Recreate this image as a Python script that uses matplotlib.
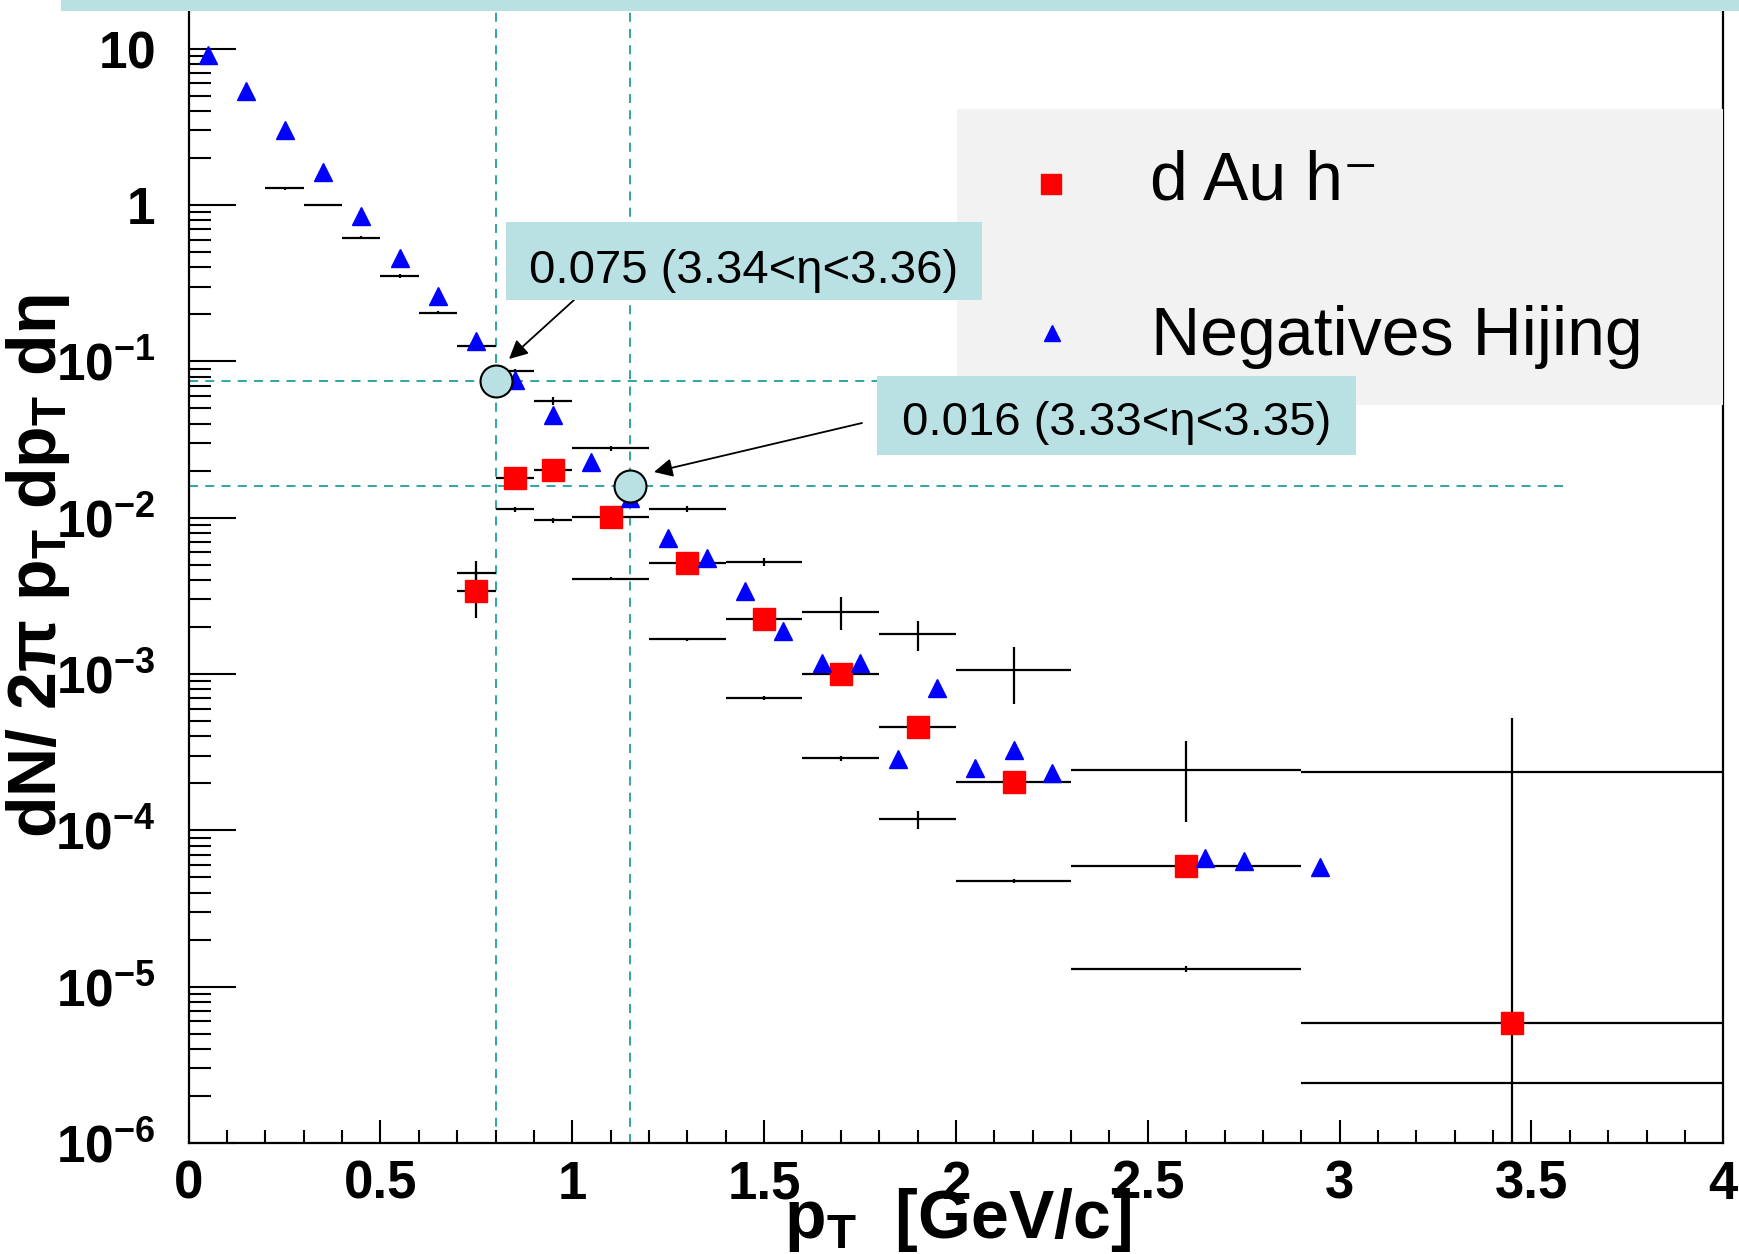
import numpy as np
import matplotlib.pyplot as plt
from matplotlib.patches import Rectangle
from matplotlib.ticker import LogLocator, MultipleLocator, NullFormatter

plt.rcParams['font.family'] = ['Liberation Sans', 'DejaVu Sans']
plt.rcParams['mathtext.fontset'] = 'custom'
plt.rcParams['mathtext.rm'] = 'Liberation Sans'
plt.rcParams['mathtext.it'] = 'Liberation Sans:italic'
plt.rcParams['mathtext.bf'] = 'Liberation Sans:bold'

# Negatives Hijing (blue triangles)
hij_x = [0.05, 0.15, 0.25, 0.35, 0.45, 0.55, 0.65, 0.75, 0.85, 0.95,
         1.05, 1.15, 1.25, 1.35, 1.45, 1.55, 1.65, 1.75, 1.85, 1.95,
         2.05, 2.15, 2.25, 2.65, 2.75, 2.95]
hij_y = [9.1, 5.34, 3.0, 1.63, 0.851, 0.459, 0.263, 0.136, 0.0756, 0.0452,
         0.0226, 0.0133, 0.00738, 0.00555, 0.00341, 0.00189, 0.00118, 0.00118, 0.000285, 0.00082,
         0.000251, 0.000327, 0.000234, 6.7e-5, 6.36e-5, 5.85e-5]

# d Au h- (red squares)
dau_x = [0.75, 0.85, 0.95, 1.1, 1.3, 1.5, 1.7, 1.9, 2.15, 2.6, 3.45]
dau_xerr = [0.05, 0.05, 0.05, 0.1, 0.1, 0.1, 0.1, 0.1, 0.15, 0.3, 0.55]
dau_y = [0.00341, 0.018, 0.0202, 0.01016, 0.0051, 0.00225, 0.001, 0.00046, 0.000203, 5.94e-5, 5.82e-6]
dau_yerr = [0.00113, 0.0003, 0.0003, 0.0002, 0.0001, 0.00004, 0.00002, 0.00001, 4e-6, 1e-6, 0]

# black crosses, upper set
up_x = [0.25, 0.35, 0.45, 0.55, 0.65, 0.75, 0.85, 0.95, 1.1, 1.3, 1.5, 1.7, 1.9, 2.15, 2.6, 3.45]
up_xerr = [0.05, 0.05, 0.05, 0.05, 0.05, 0.05, 0.05, 0.05, 0.1, 0.1, 0.1, 0.1, 0.1, 0.15, 0.3, 0.55]
up_y = [1.28, 1.0, 0.62, 0.352, 0.205, 0.126, 0.087, 0.0558, 0.0278, 0.0114,
        0.00521, 0.0025, 0.0018, 0.00106, 0.000243, 0.000235]
up_yerr = [0.03, 0.02, 0.015, 0.008, 0.005, 0.003, 0.002, 0.003, 0.001, 0.0005,
           0.0003, 0.0006, 0.0004, 0.00042, 0.00013, 0.000285]

# black crosses, lower set
lo_x = [0.75, 0.85, 0.95, 1.1, 1.3, 1.5, 1.7, 1.9, 2.15, 2.6, 3.45]
lo_xerr = [0.05, 0.05, 0.05, 0.1, 0.1, 0.1, 0.1, 0.1, 0.15, 0.3, 0.55]
lo_y = [0.00445, 0.0113, 0.0096, 0.00407, 0.00167, 0.000706, 0.000289, 0.0001175, 4.76e-5, 1.3e-5, 2.43e-6]
lo_yerr = [0.0008, 0.0004, 0.0003, 0.0001, 0.00004, 0.00002, 0.00001, 0.000016, 1.5e-6, 5e-7, 0]

# marked points
mark_x = [0.8, 1.15]
mark_y = [0.075, 0.016]
mark_xend = [3.54, 3.595]
mark_text = ['0.075 (3.34<η<3.36)', '0.016 (3.33<η<3.35)']

y_ticks = [1e-6, 1e-5, 1e-4, 1e-3, 1e-2, 1e-1, 1, 10]
y_labels = [r'$\mathbf{10^{-6}}$', r'$\mathbf{10^{-5}}$', r'$\mathbf{10^{-4}}$', r'$\mathbf{10^{-3}}$',
            r'$\mathbf{10^{-2}}$', r'$\mathbf{10^{-1}}$', r'$\mathbf{1}$', r'$\mathbf{10}$']
x_ticks = [0, 0.5, 1, 1.5, 2, 2.5, 3, 3.5, 4]
x_labels = ['0', '0.5', '1', '1.5', '2', '2.5', '3', '3.5', '4']

W, H = 1740, 1254
teal = '#b9e0e3'
dash_c = '#1f9e9e'

fig = plt.figure(figsize=(W / 100, H / 100), dpi=100)
ax = fig.add_axes([188.6 / W, (H - 1143) / H, (1723.3 - 188.6) / W, 1143 / H])
ax.set_yscale('log')
ax.set_xlim(0, 4)
ax.set_ylim(1e-6, 20.5)

# dashed guide lines
for xv, yv, xe in zip(mark_x, mark_y, mark_xend):
    ax.axvline(xv, color=dash_c, lw=1.3, ls=(0, (5, 4)), zorder=1)
    ax.hlines(yv, 0, xe, color=dash_c, lw=1.3, ls=(0, (5, 4)), zorder=1)

ax.errorbar(up_x, up_y, xerr=up_xerr, yerr=up_yerr, fmt='none', ecolor='black', elinewidth=1.6, capsize=0, zorder=2)
ax.errorbar(lo_x, lo_y, xerr=lo_xerr, yerr=lo_yerr, fmt='none', ecolor='black', elinewidth=1.6, capsize=0, zorder=2)
ax.errorbar(dau_x, dau_y, xerr=dau_xerr, yerr=dau_yerr, fmt='s', color='red', ms=16, mec='red',
            ecolor='black', elinewidth=1.6, capsize=0, zorder=3)
ax.plot(hij_x, hij_y, '^', color='blue', ms=13, mec='blue', zorder=4, ls='none')

ax.plot(mark_x, mark_y, 'o', ms=23, mfc=teal, mec='black', mew=1.5, ls='none', zorder=5)

# axes styling
for s in ['left', 'bottom', 'right']:
    ax.spines[s].set_linewidth(1.6)
ax.spines['top'].set_visible(False)
ax.yaxis.set_major_locator(LogLocator(base=10, numticks=20))
ax.yaxis.set_minor_locator(LogLocator(base=10, subs=np.arange(2, 10), numticks=20))
ax.yaxis.set_minor_formatter(NullFormatter())
ax.set_yticks(y_ticks, y_labels, fontsize=37)
ax.set_xticks(x_ticks, x_labels, fontsize=38, fontweight='bold')
ax.xaxis.set_minor_locator(MultipleLocator(0.1))
ax.tick_params(axis='y', which='major', direction='in', length=34, width=1.5, pad=24)
ax.tick_params(axis='y', which='minor', direction='in', length=16, width=1.5)
ax.tick_params(axis='x', which='major', direction='in', length=16.5, width=1.5, pad=12)
ax.tick_params(axis='x', which='minor', direction='in', length=9.4, width=1.5)

# axis titles
fig.text(38 / W, 1 - 566 / H, r'dN/ 2π p$_{\mathbf{T}}$ dp$_{\mathbf{T}}$ dη', rotation=90,
         ha='center', va='center', fontsize=49, fontweight='bold')
fig.text(958 / W, (H - 1238) / H, r'p$_{\mathbf{T}}$  [GeV/c]', ha='center', va='baseline',
         fontsize=49, fontweight='bold')

# legend
fig.patches.append(Rectangle((957 / W, 1 - 405 / H), (1723 - 957) / W, (405 - 109) / H,
                             transform=fig.transFigure, facecolor='#f2f2f2', edgecolor='none', zorder=0.5))
fig.lines.append(plt.Line2D([1051 / W], [1 - 184 / H], transform=fig.transFigure, marker='s', ms=15,
                            color='red', ls='none'))
fig.lines.append(plt.Line2D([1052 / W], [1 - 333 / H], transform=fig.transFigure, marker='^', ms=11,
                            color='blue', ls='none'))
fig.text(1150 / W, 1 - 200 / H, 'd Au h\u207b', fontsize=49, va='baseline')
fig.text(1151 / W, 1 - 355 / H, 'Negatives Hijing', fontsize=49, va='baseline')

# annotation boxes
boxes = [(506, 222, 982, 300, 283), (877, 376, 1356, 455, 435)]
for (x0, y0, x1, y1, yb), txt in zip(boxes, mark_text):
    fig.patches.append(Rectangle((x0 / W, 1 - y1 / H), (x1 - x0) / W, (y1 - y0) / H,
                                 transform=fig.transFigure, facecolor=teal, edgecolor='none', zorder=6))
    fig.text((x0 + x1) / 2 / W, 1 - yb / H, txt, fontsize=34, ha='center', va='baseline', zorder=7)

ax.annotate('', xy=(509, H - 359), xycoords='figure pixels', xytext=(574, H - 300),
            textcoords='figure pixels',
            arrowprops=dict(arrowstyle='-|>', color='black', lw=1.3, mutation_scale=28, shrinkA=0, shrinkB=0))
ax.annotate('', xy=(654, H - 472), xycoords='figure pixels', xytext=(862, H - 423),
            textcoords='figure pixels',
            arrowprops=dict(arrowstyle='-|>', color='black', lw=1.3, mutation_scale=28, shrinkA=0, shrinkB=0))

# top band
fig.patches.append(Rectangle((61 / W, 1 - 11 / H), (W - 61) / W, 11 / H, transform=fig.transFigure,
                             facecolor=teal, edgecolor='none', zorder=10))

fig.savefig('out.png', dpi=100)
